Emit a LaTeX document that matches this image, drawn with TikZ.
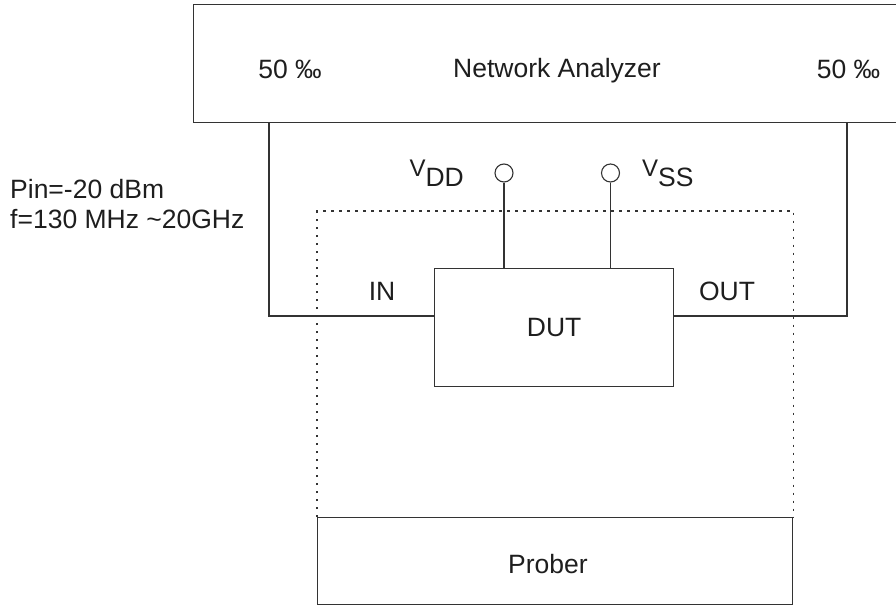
\documentclass[tikz,border=0pt]{standalone}
\usepackage{fontspec}
\setmainfont{Liberation Sans}
\definecolor{ln}{HTML}{333333}
\definecolor{tx}{HTML}{1E1E1E}
\tikzset{
  box/.style={draw=ln, line width=1.3pt, inner sep=0pt, text=tx, font=\fontsize{26.5}{30}\selectfont},
  wire/.style={draw=ln, line width=1.3pt},
  lbl/.style={inner sep=0pt, anchor=base, text=tx, font=\fontsize{26.5}{30}\selectfont},
  dotbox/.style={draw=ln, line width=1.3pt, dash pattern=on 2.5pt off 5.5pt},
  term/.style={circle, draw=ln, line width=1.1pt, minimum size=18pt, inner sep=0pt}
}
\begin{document}
\begin{tikzpicture}[x=1pt,y=-1pt]
\useasboundingbox (0,0) rectangle (896,605);
% Network analyzer
\node[box, anchor=north west, minimum width=712pt, minimum height=118pt] (na) at (193,4) {};
\node[lbl] (nal) at (557,77) {Network Analyzer};
\node[lbl] (pl) at (290,78) {50 ‰};
\node[lbl] (pr) at (848.5,78) {50 ‰};
% DUT
\node[box, anchor=north west, minimum width=239pt, minimum height=118pt] (dut) at (434,268) {DUT};
% Prober
\node[box, anchor=north west, minimum width=475pt, minimum height=87pt] (pb) at (317,517) {};
\node[lbl] (pbl) at (548,573) {Prober};
% dotted enclosure
\draw[dotbox] (pb.north west) -- ++(0,-306) -| (pb.north east);
% terminals
\node[term] (vdd) at (504,173) {};
\node[term] (vss) at (610.5,173) {};
\draw[wire] (vdd.south) -- (vdd.south |- dut.north);
\draw[wire] (vss.south) -- (vss.south |- dut.north);
\node[lbl, anchor=base east] (vddl) at (464,186) {\fontsize{24}{24}\selectfont\raisebox{10pt}{V}\fontsize{26.5}{26.5}\selectfont DD};
\node[lbl, anchor=base west] (vssl) at (642,186) {\fontsize{24}{24}\selectfont\raisebox{10pt}{V}\fontsize{26.5}{26.5}\selectfont SS};
% signal wires
\coordinate (lx) at (269,316);
\coordinate (rx) at (847,316);
\draw[wire] (lx |- na.south) -- (lx) -- (lx -| dut.west);
\draw[wire] (rx |- na.south) -- (rx) -- (rx -| dut.east);
\node[lbl] (inl) at (382,300) {IN};
\node[lbl] (outl) at (727,300) {OUT};
% stimulus text
\node[lbl, anchor=base west] (pin) at (10,198) {Pin=-20 dBm};
\node[lbl, anchor=base west] (freq) at (10,228) {f=130 MHz \textasciitilde20GHz};
\end{tikzpicture}
\end{document}
